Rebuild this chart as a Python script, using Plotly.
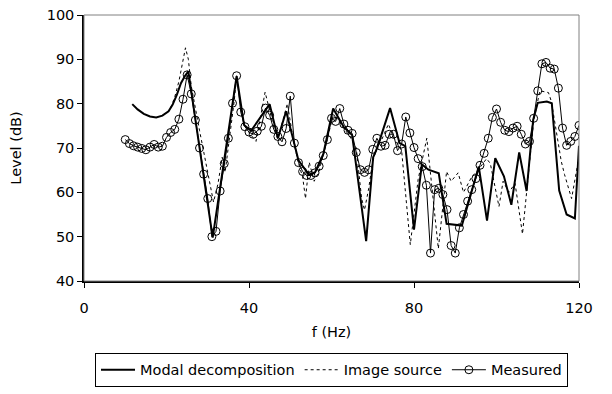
import plotly.graph_objects as go

# Measured (1 Hz steps, 10..120 Hz)
meas_f = list(range(10, 121))
meas_L = [71.9, 71.0, 70.5, 70.2, 69.9, 69.6, 70.2, 70.8, 70.2, 70.4,
          72.4, 73.5, 74.2, 76.5, 81.0, 86.5, 82.2, 76.3, 70.0, 64.1,
          58.6, 50.0, 51.2, 60.3, 66.5, 72.2, 80.1, 86.3, 78.1, 74.8,
          73.6, 73.1, 73.8, 74.9, 79.0, 77.4, 74.2, 72.6, 71.4, 74.4,
          81.7, 71.1, 66.7, 64.7, 63.8, 63.8, 64.4, 65.9, 68.3, 71.9,
          76.7, 76.0, 78.9, 75.4, 74.0, 73.3, 69.0, 65.1, 64.5, 65.1,
          69.7, 72.2, 70.4, 70.6, 73.1, 73.1, 69.4, 70.9, 77.0, 73.4,
          70.1, 67.6, 65.8, 61.6, 46.3, 60.6, 60.9, 59.5, 56.1, 48.0,
          46.3, 52.0, 55.0, 58.0, 60.6, 63.1, 66.1, 68.8, 72.2, 76.9,
          78.8, 75.8, 74.0, 73.7, 74.5, 74.9, 73.1, 70.9, 71.5, 76.7,
          82.9, 89.0, 89.3, 88.0, 87.8, 83.5, 74.5, 70.6, 71.5, 72.6,
          75.1]

# Modal decomposition
modal_f = [11.7, 13, 14.5, 16, 17.5, 19, 20.5, 21.5, 22.5, 23.5, 24.5, 25.3,
           31.2, 37, 38.8, 40.5, 45, 47, 49, 50.8, 52, 54.5, 56, 58, 60.4,
           63, 65, 68.4, 70.1, 71.1, 74.2, 76.5, 77.9, 80, 81.9, 83.5, 86,
           87.9, 90.7, 91.6, 95.7, 97.7, 99.7, 101.8, 103.6, 105.5, 107.3,
           108.9, 110, 112.2, 113.4, 115.2, 117, 119, 120]
modal_L = [79.9, 78.7, 77.7, 77.1, 76.9, 77.3, 78.3, 79.8, 82.0, 84.6, 86.3, 87.3,
           49.8, 86.2, 75.2, 73.9, 79.9, 72.2, 78.3, 71.5, 67.2, 64.0, 64.5, 68.6, 78.9,
           74.7, 72.9, 49.0, 67.9, 70.1, 79.0, 71.1, 70.4, 51.6, 66.3, 65.1, 64.3,
           52.9, 52.7, 52.5, 65.8, 53.6, 67.7, 63.6, 57.2, 69.0, 60.3,
           76.4, 80.2, 80.5, 80.1, 60.4, 55.0, 54.1, 70.5]

# Image source
img_f = [21, 22, 23, 24, 24.6, 25.3, 26, 28, 30, 31.4, 32.5, 33.5, 34.2, 35,
         36.4, 37, 38.5, 40, 41.7, 43, 43.9, 45, 46, 47, 48, 49.3, 50.8, 52,
         53, 53.7, 54.6, 55.8, 57, 58, 59.6, 60.4, 61.5, 63, 64.5, 66, 67.3,
         68, 69, 70, 71, 72, 73.8, 75, 76, 77, 79.1, 81, 83.1, 84.5, 85.9,
         87.9, 89, 90.7, 92, 94, 95.5, 97.6, 98.5, 100.6, 101.6, 103, 104.5,
         106.3, 107.5, 109, 110.5, 112.6, 113.3, 115.7, 116.5, 118.2, 120]
img_L = [79.0, 81.5, 85.0, 90.0, 92.6, 90.0, 84.0, 74.0, 64.0, 57.8, 62.0, 67.9, 64.5, 70.0,
         80.5, 86.0, 76.5, 73.5, 71.5, 78.0, 82.6, 78.5, 74.5, 72.0, 75.5, 80.0, 71.5, 66.5,
         63.5, 58.6, 66.8, 62.5, 64.8, 68.6, 74.9, 77.3, 76.5, 74.5, 72.5, 70.0, 58.6,
         56.0, 60.8, 67.0, 70.0, 71.5, 75.4, 72.5, 71.0, 69.4, 48.2, 62.9, 72.2, 60.0, 47.3,
         64.7, 62.5, 64.4, 60.0, 63.5, 65.0, 67.6, 66.5, 56.8, 62.5, 60.0, 62.0,
         50.6, 62.0, 76.0, 82.9, 82.5, 80.5, 67.0, 64.0, 58.6, 68.0]

x_ticks = [0, 40, 80, 120]
y_ticks = [40, 50, 60, 70, 80, 90, 100]

FONT = "DejaVu Sans"
FS = 14.5

fig = go.Figure()
fig.add_trace(go.Scatter(x=modal_f, y=modal_L, mode="lines", name="Modal decomposition",
                         line=dict(color="black", width=2)))
fig.add_trace(go.Scatter(x=img_f, y=img_L, mode="lines", name="Image source",
                         line=dict(color="black", width=1, dash="dot")))
fig.add_trace(go.Scatter(x=meas_f, y=meas_L, mode="lines+markers", name="Measured",
                         line=dict(color="black", width=1),
                         marker=dict(symbol="circle-open", size=8, color="black",
                                     line=dict(width=1, color="black"))))

fig.update_layout(
    width=612, height=394,
    margin=dict(l=84, r=33, t=7, b=107),
    paper_bgcolor="white", plot_bgcolor="white",
    font=dict(family=FONT, size=FS, color="black"),
    showlegend=True,
    legend=dict(orientation="h", x=0.5, xanchor="center", y=-0.27, yanchor="top",
                bordercolor="black", borderwidth=1, bgcolor="white",
                font=dict(family=FONT, size=FS), itemwidth=34,
                tracegroupgap=0),
    xaxis=dict(range=[0, 120], tickvals=x_ticks, ticks="outside", ticklen=5,
               tickcolor="black", showline=True, linecolor="black", linewidth=1.5,
               showgrid=False, zeroline=False, ticklabelstandoff=8,
               title=dict(text="f (Hz)", standoff=12, font=dict(size=FS))),
    yaxis=dict(range=[40, 100], tickvals=y_ticks, ticks="outside", ticklen=5,
               tickcolor="black", showline=True, linecolor="black", linewidth=1.5,
               showgrid=False, zeroline=False, ticklabeloverflow="allow",
               title=dict(text="Level (dB)", standoff=22, font=dict(size=FS))),
)
fig.add_shape(type="rect", xref="paper", yref="paper", x0=0, y0=0, x1=1, y1=1,
              line=dict(color="#808080", width=1), layer="above")

fig.write_html("out.html")
